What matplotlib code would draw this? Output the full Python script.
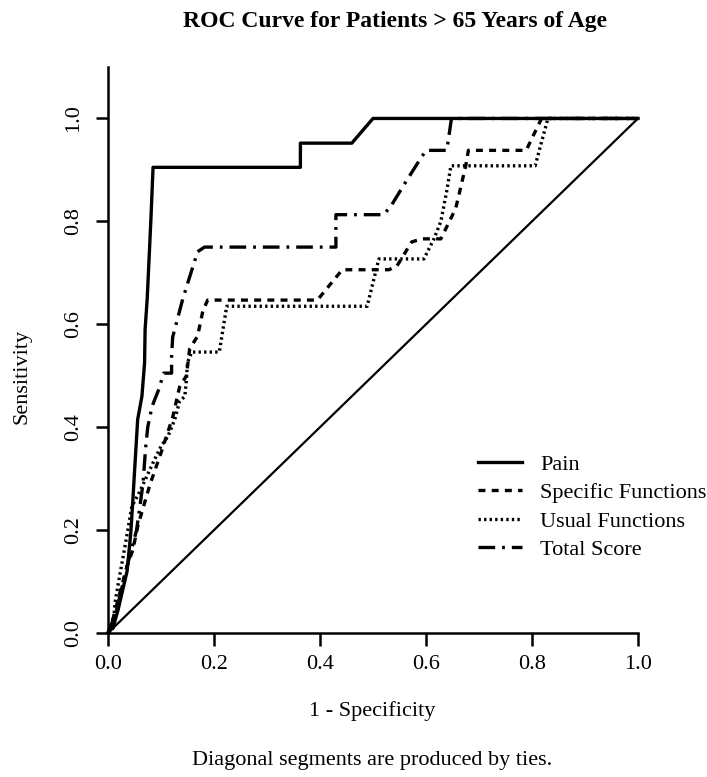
import matplotlib
matplotlib.use("Agg")
import matplotlib.pyplot as plt

plt.rcParams['font.family'] = ['Liberation Serif', 'DejaVu Serif']
plt.rcParams['lines.scale_dashes'] = False

# ROC curves (1 - specificity, sensitivity)
pain_x = [0, 0.010, 0.019, 0.036, 0.043, 0.047, 0.051, 0.056, 0.064, 0.069, 0.070, 0.074, 0.081, 0.085, 0.363, 0.363, 0.460, 0.500, 1.000]
pain_y = [0, 0.012, 0.045, 0.120, 0.195, 0.260, 0.330, 0.415, 0.460, 0.525, 0.590, 0.650, 0.805, 0.905, 0.905, 0.952, 0.952, 1.000, 1.000]

spec_x = [0, 0.010, 0.036, 0.047, 0.056, 0.079, 0.100, 0.122, 0.135, 0.148, 0.154, 0.169, 0.179, 0.188, 0.395, 0.442, 0.530,
          0.545, 0.573, 0.592, 0.628, 0.656, 0.665, 0.675, 0.680, 0.789, 0.818, 1.000]
spec_y = [0, 0.030, 0.130, 0.162, 0.207, 0.288, 0.350, 0.419, 0.478, 0.500, 0.552, 0.577, 0.626, 0.647, 0.647, 0.706, 0.706,
          0.713, 0.760, 0.766, 0.766, 0.825, 0.864, 0.908, 0.938, 0.938, 1.000, 1.000]

usual_x = [0, 0.010, 0.013, 0.023, 0.032, 0.045, 0.060, 0.073, 0.085, 0.100, 0.113, 0.126, 0.135, 0.145, 0.148, 0.150, 0.158,
           0.210, 0.224, 0.489, 0.511, 0.596, 0.615, 0.628, 0.639, 0.647, 0.806, 0.830, 1.000]
usual_y = [0, 0.010, 0.058, 0.117, 0.168, 0.246, 0.275, 0.304, 0.331, 0.363, 0.382, 0.415, 0.450, 0.460, 0.493, 0.526, 0.546,
           0.546, 0.635, 0.635, 0.727, 0.727, 0.766, 0.800, 0.858, 0.908, 0.908, 1.000, 1.000]

total_x = [0, 0.015, 0.036, 0.054, 0.066, 0.071, 0.075, 0.083, 0.096, 0.105, 0.120, 0.120, 0.122, 0.141, 0.169, 0.182, 0.430,
           0.430, 0.520, 0.534, 0.562, 0.586, 0.600, 0.639, 0.642, 0.648, 1.000]
total_y = [0, 0.040, 0.130, 0.200, 0.290, 0.360, 0.400, 0.440, 0.474, 0.505, 0.505, 0.538, 0.575, 0.649, 0.741, 0.750, 0.750,
           0.813, 0.813, 0.830, 0.877, 0.916, 0.938, 0.938, 0.957, 1.000, 1.000]

labels = ['Pain', 'Specific Functions', 'Usual Functions', 'Total Score']
ticks = [0.0, 0.2, 0.4, 0.6, 0.8, 1.0]

fig = plt.figure(figsize=(7.07, 7.77), dpi=100)
ax = fig.add_axes([108/707, 1 - 633/777, 530/707, 566/777])

ax.plot([0, 1], [0, 1], color='black', lw=1.6, clip_on=False)
ax.plot(pain_x, pain_y, color='black', lw=2.4, label=labels[0], clip_on=False)
ax.plot(spec_x, spec_y, color='black', lw=2.4, dashes=(5, 4.5), label=labels[1], clip_on=False)
ax.plot(usual_x, usual_y, color='black', lw=2.4, dashes=(1.7, 2.3), label=labels[2], clip_on=False)
ax.plot(total_x, total_y, color='black', lw=2.4, dashes=(12, 5, 2, 5), label=labels[3], clip_on=False)

ax.set_xlim(0, 1)
ax.set_ylim(0, 1.1)
ax.set_xticks(ticks)
ax.set_yticks(ticks)
ax.set_xticklabels(['%.1f' % t for t in ticks])
ax.set_yticklabels(['%.1f' % t for t in ticks], rotation=90, va='center')
ax.spines['top'].set_visible(False)
ax.spines['right'].set_visible(False)
ax.spines['left'].set_linewidth(1.8)
ax.spines['bottom'].set_linewidth(1.8)
ax.spines['bottom'].set_bounds(0, 1)
ax.tick_params(axis='both', length=9, width=1.8, labelsize=16)
ax.tick_params(axis='x', pad=7)
ax.tick_params(axis='y', pad=9)

leg = ax.legend(loc='upper left', bbox_to_anchor=(478/707, 1 - 454/777), bbox_transform=fig.transFigure,
                frameon=False, fontsize=16, handlelength=2.0, handletextpad=0.8,
                labelspacing=0.36, borderpad=0, borderaxespad=0)

fig.text(395/707, 1 - 22/777, 'ROC Curve for Patients > 65 Years of Age', ha='center', va='center',
         fontsize=17, fontweight='bold')
fig.text(22/707, 1 - 376/777, 'Sensitivity', rotation=90, ha='center', va='center', fontsize=16)
fig.text(372/707, 1 - 711/777, '1 - Specificity', ha='center', va='center', fontsize=16)
fig.text(372/707, 1 - 760/777, 'Diagonal segments are produced by ties.', ha='center', va='center', fontsize=16)

fig.savefig('out.png', dpi=100)
